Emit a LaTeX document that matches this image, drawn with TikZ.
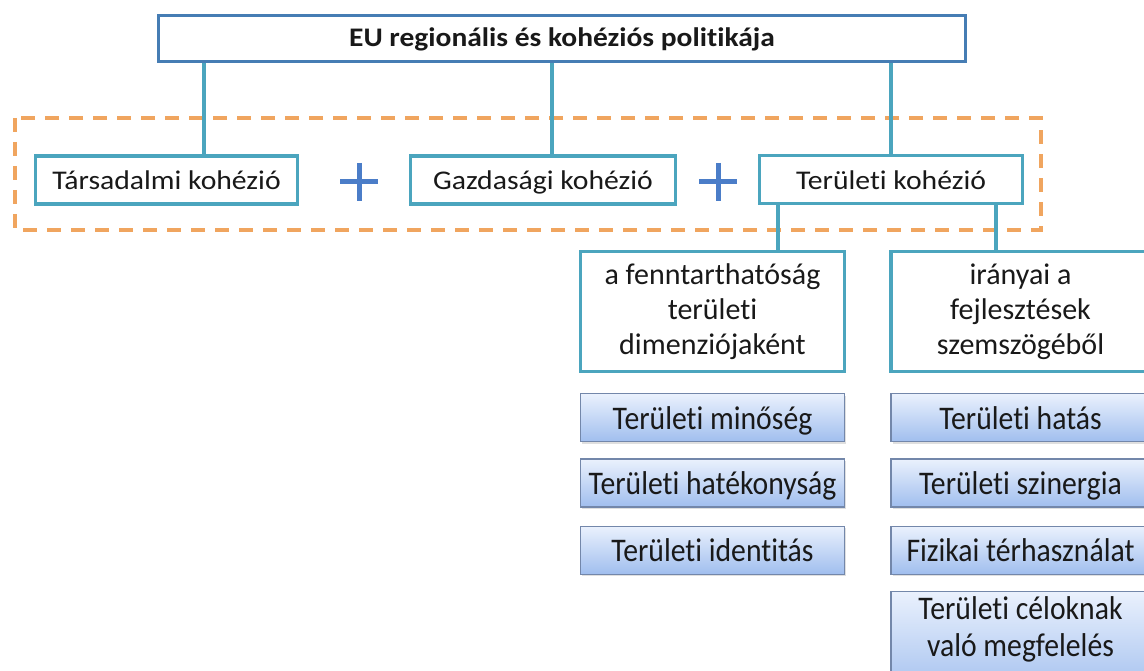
\documentclass[tikz,border=0pt]{standalone}
\usepackage{fontspec}
\setmainfont[Ligatures=NoCommon]{Carlito}
\newfontfamily\widefont[Ligatures=NoCommon,FakeStretch=1.1]{Carlito}
\newfontfamily\narrowfont[Ligatures=NoCommon,FakeStretch=0.9]{Carlito}
\usetikzlibrary{positioning,shadows}
\definecolor{boxline}{RGB}{75,165,190}
\definecolor{topline}{RGB}{70,125,180}
\definecolor{frameorange}{RGB}{240,165,95}
\definecolor{plusblue}{RGB}{75,125,200}
\definecolor{bluetop}{RGB}{234,241,253}
\definecolor{bluebot}{RGB}{160,190,238}
\definecolor{blueline}{RGB}{115,135,170}
\definecolor{txt}{RGB}{25,25,25}

\begin{document}
\begin{tikzpicture}[x=1pt,y=-1pt,font=\fontsize{30}{35}\selectfont,text=txt]
\tikzset{cohbox/.style={draw=boxline,line width=3.5pt,fill=white,inner sep=0pt,minimum height=48pt,align=center,font=\widefont\fontsize{27}{32}\selectfont,text height=21pt,text depth=1pt},
topbox/.style={cohbox,draw=topline,font=\widefont\bfseries\fontsize{26.8}{32}\selectfont,minimum width=807pt,minimum height=46pt,text height=20pt,text depth=3pt},
dimbox/.style={cohbox,font=\fontsize{30}{35}\selectfont,minimum height=120pt,text height=,text depth=},
itembox/.style={draw=blueline,line width=1.2pt,top color=bluetop,bottom color=bluebot,inner sep=0pt,minimum height=48pt,align=center,font=\narrowfont\fontsize{33}{34}\selectfont,text height=25pt,text depth=2pt,drop shadow={shadow xshift=1.5pt,shadow yshift=-2pt,opacity=0.25}},
conn/.style={draw=boxline,line width=3.5pt},
pics/.cd,
plussign/.style={code={%
\draw[plusblue,line width=5pt] (-19,0) -- (19,0);
\draw[plusblue,line width=5pt] (0,-19) -- (0,19);
}}}
\useasboundingbox (0,0) rectangle (1144,671);

\draw[frameorange,line width=3.5pt,dash pattern=on 14pt off 10pt] (15,118) rectangle (1041,230);

\node[topbox] (eu) at (562,38.5) {EU regionális és kohéziós politikája};
\node[cohbox,minimum width=262pt] (tars) at (166.5,180) {Társadalmi kohézió};
\node[cohbox,minimum width=265pt] (gazd) at (543,180) {Gazdasági kohézió};
\node[cohbox,minimum width=263pt] (terul) at (891,179.5) {Területi kohézió};

\pic at (359,182) {plussign};
\pic at (718,182) {plussign};

\draw[conn] ([xshift=37.5pt]tars.north) -- ([xshift=37.5pt]tars.north |- eu.south);
\draw[conn] ([xshift=9pt]gazd.north) -- ([xshift=9pt]gazd.north |- eu.south);
\draw[conn] (terul.north) -- (terul.north |- eu.south);

\node[dimbox,minimum width=264pt] (fennt) at (712.5,311.5) {a fenntarthatóság\\területi\\dimenziójaként};
\node[dimbox,minimum width=259pt] (irany) at (1020.5,311.5) {irányai a\\fejlesztések\\szemszögéből};

\draw[conn] ([xshift=65.5pt]fennt.north) -- ([xshift=65.5pt]fennt.north |- terul.south);
\draw[conn] ([xshift=-24.5pt]irany.north) -- ([xshift=-24.5pt]irany.north |- terul.south);

\node[itembox,minimum width=264pt,below=20pt of fennt] (minoseg) {Területi minőség};
\node[itembox,minimum width=264pt,below=16pt of minoseg] (hatekony) {Területi hatékonyság};
\node[itembox,minimum width=264pt,below=18pt of hatekony] (ident) {Területi identitás};

\node[itembox,minimum width=259pt,below=20pt of irany] (hatas) {Területi hatás};
\node[itembox,minimum width=259pt,below=16pt of hatas] (szinerg) {Területi szinergia};
\node[itembox,minimum width=259pt,below=18pt of szinerg] (fizikai) {Fizikai térhasználat};
\node[itembox,minimum width=259pt,below=16pt of fizikai,text height=,text depth=,inner ysep=5pt,font=\narrowfont\fontsize{33}{37}\selectfont] (celok) {Területi céloknak\\való megfelelés\\\rule{0pt}{28pt}};
\end{tikzpicture}
\end{document}
